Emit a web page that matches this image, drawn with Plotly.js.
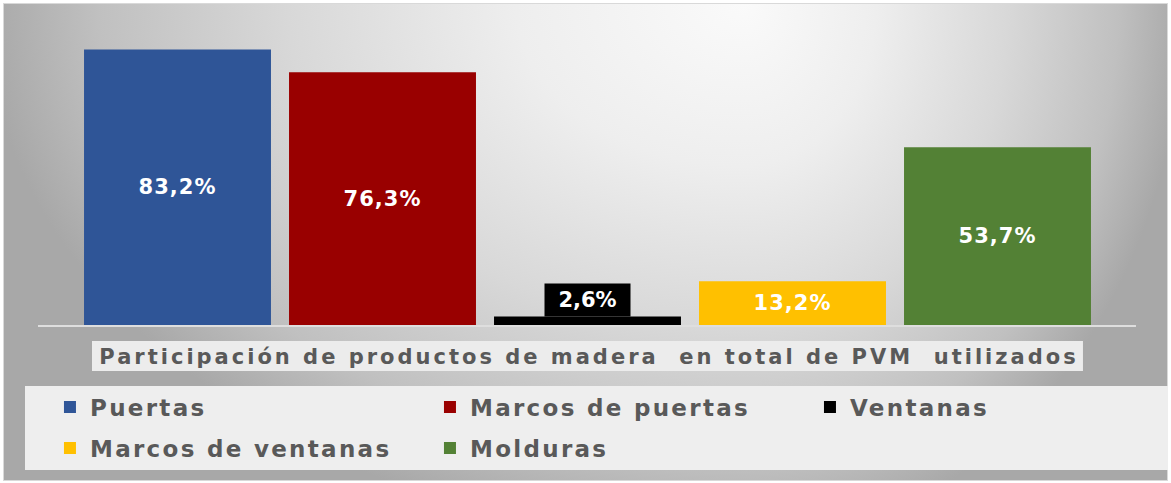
<!DOCTYPE html>
<html>
<head>
<meta charset="utf-8">
<script src="https://cdn.plot.ly/plotly-3.0.1.min.js"></script>
<style>
html,body{margin:0;padding:0;background:#ffffff;}
#wrap{position:relative;width:1171px;height:483px;overflow:hidden;}
#bg{position:absolute;left:3px;top:3px;width:1163px;height:476px;border:1px solid #d9d9d9;
  background:
    radial-gradient(ellipse 760px 540px at 100% 0%, #fafafa 0%, #eeeeee 30%, #d8d8d8 60%, #c0c0c0 85%, #a8a8a8 100%) left top / 740px 100% no-repeat,
    radial-gradient(ellipse 440px 540px at 0% 0%, #fafafa 0%, #eeeeee 30%, #d8d8d8 60%, #c0c0c0 85%, #a8a8a8 100%) right top / 423px 100% no-repeat;
}
#chart{position:absolute;left:0;top:0;width:1171px;height:483px;}
g.legend .legendpoints path, g.legend2 .legendpoints path{stroke-width:3px !important;}
text.legendtext, g.legend text, g.legend2 text{letter-spacing:2.3px;}
.gtitle{letter-spacing:3px;}
.bartext{letter-spacing:1px;}
</style>
</head>
<body>
<div id="wrap"><div id="bg"></div><div id="chart"></div></div>
<script>
const categories = ['Puertas', 'Marcos de puertas', 'Ventanas', 'Marcos de ventanas', 'Molduras'];
const values = [83.2, 76.3, 2.6, 13.2, 53.7];
const colors = ['#2F5597', '#990000', '#000000', '#FFC000', '#538135'];
const titleText = 'Participación de productos de madera \u00a0en total de PVM \u00a0utilizados';

function fmt(v) { return v.toFixed(1).replace('.', ',') + '%'; }

const FONT = 'DejaVu Sans, Verdana, sans-serif';
const rowEnd = [false, false, true, false, true];

const traces = categories.map((c, i) => ({
  type: 'bar',
  name: c,
  x: [c],
  y: [values[i]],
  marker: {color: colors[i], line: {color: colors[i], width: 0}},
  text: [fmt(values[i])],
  textposition: i === 2 ? 'none' : 'inside',
  insidetextanchor: 'middle',
  constraintext: 'none',
  textfont: {family: FONT, size: 21, color: '#ffffff', weight: 'bold'},
  legend: i < 3 ? 'legend' : 'legend2',
  legendwidth: rowEnd[i] ? 150 : undefined,
  hoverinfo: 'skip'
}));

const legendFont = {family: FONT, size: 23, color: '#595959', weight: 'bold'};

const layout = {
  width: 1171,
  height: 483,
  margin: {l: 75, r: 3, t: 25, b: 158},
  paper_bgcolor: 'rgba(0,0,0,0)',
  plot_bgcolor: 'rgba(0,0,0,0)',
  barmode: 'overlay',
  bargap: 0.088,
  separators: ',.',
  title: {text: titleText, xref: 'container', yref: 'container', x: 0.503, xanchor: 'center',
          y: 0.261, yanchor: 'middle', font: {family: FONT, size: 21, color: '#595959', weight: 'bold'}},
  xaxis: {type: 'category', range: [-0.5, 4.8317], visible: false, showgrid: false, zeroline: false},
  yaxis: {range: [0, 90.6], visible: false, showgrid: false, zeroline: false},
  legend: {orientation: 'h', x: -0.0229, xanchor: 'left', y: -0.2733, yanchor: 'middle',
           entrywidth: 335, entrywidthmode: 'pixels', font: legendFont, bgcolor: 'rgba(0,0,0,0)', borderwidth: 0},
  legend2: {orientation: 'h', x: -0.0229, xanchor: 'left', y: -0.41, yanchor: 'middle',
            entrywidth: 335, entrywidthmode: 'pixels', font: legendFont, bgcolor: 'rgba(0,0,0,0)', borderwidth: 0},
  shapes: [
    {type: 'line', xref: 'paper', yref: 'paper', x0: -0.03385, x1: 0.9707, y0: -0.0033, y1: -0.0033,
     line: {color: '#dedede', width: 2}, layer: 'below'},
    {type: 'rect', xref: 'paper', yref: 'paper', x0: 0.01555, x1: 0.9222, y0: -0.1533, y1: -0.0533,
     fillcolor: '#ececec', line: {width: 0}, layer: 'below'},
    {type: 'rect', xref: 'paper', yref: 'paper', x0: -0.04575, x1: 1.0, y0: -0.4833, y1: -0.2033,
     fillcolor: '#eeeeee', line: {width: 0}, layer: 'below'}
  ],
  annotations: [
    {text: fmt(values[2]), xref: 'x', yref: 'y', x: categories[2], y: values[2], xanchor: 'center', yanchor: 'bottom',
     showarrow: false, bgcolor: '#000000', width: 85, height: 32, borderpad: 0, yshift: -1,
     font: {family: FONT, size: 21, color: '#ffffff', weight: 'bold'}}
  ]
};

Plotly.newPlot('chart', traces, layout, {displayModeBar: false, staticPlot: true});
</script>
</body>
</html>
